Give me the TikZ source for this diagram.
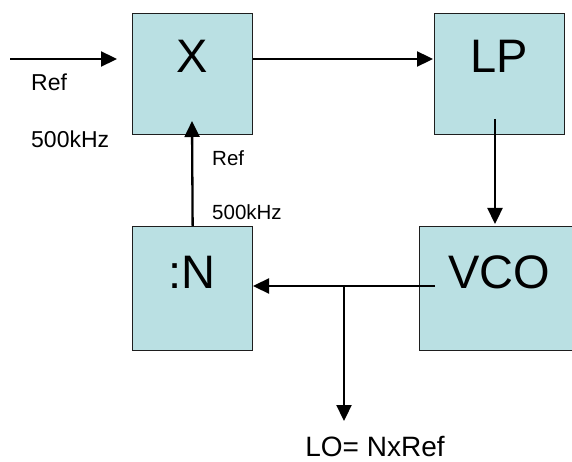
\documentclass[tikz,border=0pt]{standalone}
\usepackage{fontspec}
\setmainfont{Liberation Sans}
\usetikzlibrary{arrows.meta}
\definecolor{boxfill}{RGB}{186,224,227}
\definecolor{boxline}{RGB}{30,30,30}
\tikzset{
  blk/.style={draw=boxline, line width=1.3pt, fill=boxfill, rectangle, inner sep=0pt, anchor=north west},
  big/.style={font=\fontsize{47}{47}\selectfont, inner sep=0pt, anchor=base},
  lbl/.style={font=\fontsize{23}{23}\selectfont, inner sep=0pt, anchor=base west},
  slbl/.style={font=\fontsize{20.5}{20.5}\selectfont, inner sep=0pt, anchor=base west},
  conn/.style={line width=2.3pt, -{Triangle[length=16pt,width=15pt]}}
}
\begin{document}
\begin{tikzpicture}[x=1pt,y=-1pt]
\useasboundingbox (0,0) rectangle (572,462);
\clip (0,0) rectangle (572,462);
% boxes
\node[blk, minimum width=120pt, minimum height=121pt] (X) at (132,13) {};
\node[blk, minimum width=130pt, minimum height=121pt] (LP) at (434,13) {};
\node[blk, minimum width=120pt, minimum height=124pt] (N) at (132,226) {};
\node[blk, minimum width=162pt, minimum height=124pt] (VCO) at (419,226) {};
% box labels
\node[big] (tX) at (192,73) {X};
\node[big] (tLP) at (499,73) {LP};
\node[big] (tN) at (192,288) {:N};
\node[big] (tVCO) at (499,288) {VCO};
% other labels
\node[lbl] (ref1) at (31,91) {Ref};
\node[lbl] (khz1) at (31,148) {500kHz};
\node[slbl] (ref2) at (212,166) {Ref};
\node[slbl] (khz2) at (212,219) {500kHz};
\node[font=\fontsize{28}{28}\selectfont, inner sep=0pt, anchor=base] (lo) at (375,456) {LO= NxRef};
% coordinates
\coordinate (inS) at (10,59);
\coordinate (inE) at (117,59);
\coordinate (lpIn) at (433,59);
\coordinate (lpOut) at (495,119);
\coordinate (vcoTop) at (495,224);
\coordinate (vcoOut) at (435,286);
\coordinate (nIn) at (253,286);
\coordinate (br) at (344,286);
\coordinate (loEnd) at (344,421);
\coordinate (xIn) at (192,121);
% connectors
\draw[conn] (inS) -- (inE);
\draw[conn] (X.east |- inS) -- (lpIn);
\draw[conn] (lpOut) -- (vcoTop);
\draw[conn] (vcoOut) -- (nIn);
\draw[conn] (br) -- (loEnd);
\draw[conn] (N.north) -- (xIn);
\end{tikzpicture}
\end{document}
